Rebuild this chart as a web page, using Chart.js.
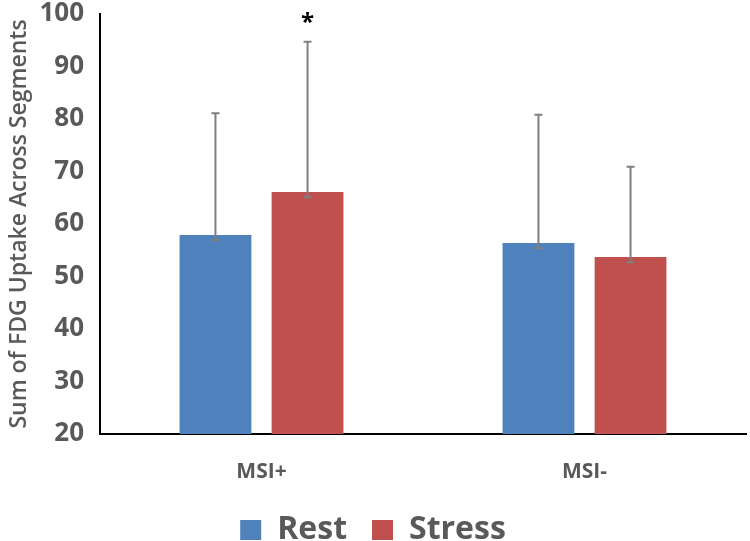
<!DOCTYPE html>
<html>
<head>
<meta charset="utf-8">
<script src="https://cdn.jsdelivr.net/npm/chart.js@4.4.1/dist/chart.umd.min.js"></script>
<style>
  html, body { margin: 0; padding: 0; background: #fff; }
  #wrap { width: 750px; height: 541px; }
</style>
</head>
<body>
<div id="wrap"><canvas id="fdgChart"></canvas></div>
<script>
const categories = ['MSI+', 'MSI-'];
const restValues = [57.9, 56.4];
const stressValues = [66.1, 53.7];
// error bar ends
const restErrHigh = [81.1, 80.8];
const restErrLow = [56.9, 55.4];
const stressErrHigh = [94.7, 70.9];
const stressErrLow = [65.1, 52.7];
const yTicks = [20, 30, 40, 50, 60, 70, 80, 90, 100];
const significance = ['*', ''];

const grey = '#595959';

const errorBars = {
    id: 'errorBars',
    afterDatasetsDraw(chart) {
        const {ctx, scales: {y}} = chart;
        const ends = [[restErrLow, restErrHigh], [stressErrLow, stressErrHigh]];
        ctx.save();
        ctx.strokeStyle = '#7f7f7f';
        ctx.lineWidth = 2;
        ends.forEach(([low, high], di) => {
            chart.getDatasetMeta(di).data.forEach((bar, i) => {
                const x = bar.x;
                const yl = y.getPixelForValue(low[i]);
                const yh = y.getPixelForValue(high[i]);
                ctx.beginPath();
                ctx.moveTo(x, yl);
                ctx.lineTo(x, yh);
                ctx.moveTo(x - 4, yl);
                ctx.lineTo(x + 4, yl);
                ctx.moveTo(x - 4, yh);
                ctx.lineTo(x + 4, yh);
                ctx.stroke();
            });
        });
        // significance marks above the stress bars
        ctx.fillStyle = '#000';
        ctx.font = 'bold 24px "Open Sans"';
        ctx.textAlign = 'center';
        ctx.textBaseline = 'middle';
        chart.getDatasetMeta(1).data.forEach((bar, i) => {
            if (significance[i]) {
                ctx.fillText(significance[i], bar.x, y.getPixelForValue(stressErrHigh[i]) - 19);
            }
        });
        ctx.restore();
    },
};

new Chart(document.getElementById('fdgChart'), {
    type: 'bar',
    data: {
        labels: categories,
        datasets: [
            {
                label: 'Rest',
                data: restValues,
                backgroundColor: '#4F81BD',
                barPercentage: 0.78,
                categoryPercentage: 0.57,
            },
            {
                label: 'Stress',
                data: stressValues,
                backgroundColor: '#C0504D',
                barPercentage: 0.78,
                categoryPercentage: 0.57,
            },
        ],
    },
    options: {
        responsive: true,
        maintainAspectRatio: false,
        animation: false,
        layout: {
            padding: {top: 14, right: 4, bottom: -15, left: 0},
        },
        plugins: {
            legend: {
                position: 'bottom',
                labels: {
                    color: grey,
                    boxWidth: 21,
                    boxHeight: 20,
                    padding: 25,
                    font: {family: 'Open Sans', size: 32, weight: 'bold'},
                },
            },
            tooltip: {enabled: false},
        },
        scales: {
            x: {
                grid: {display: false},
                border: {display: true, color: '#000', width: 2},
                ticks: {
                    color: grey,
                    padding: 17,
                    font: {family: 'Open Sans', size: 21, weight: 'bold'},
                },
                afterFit: (scale) => { scale.height = 55; },
            },
            y: {
                min: 20,
                max: 100,
                afterBuildTicks: (scale) => {
                    scale.ticks = yTicks.map((v) => ({value: v}));
                },
                grid: {display: false, drawTicks: false},
                border: {display: true, color: '#000', width: 2},
                ticks: {
                    color: grey,
                    padding: 16,
                    font: {family: 'Open Sans', size: 26, weight: 'bold'},
                },
                title: {
                    display: true,
                    text: 'Sum of FDG Uptake Across Segments',
                    color: grey,
                    padding: {top: 6, bottom: 0},
                    font: {family: 'Open Sans', size: 23, weight: '600'},
                },
                afterFit: (scale) => {
                    scale.width = 100;
                    scale.paddingTop = 0;
                    scale.paddingBottom = 0;
                },
            },
        },
    },
    plugins: [errorBars],
});
</script>
</body>
</html>
